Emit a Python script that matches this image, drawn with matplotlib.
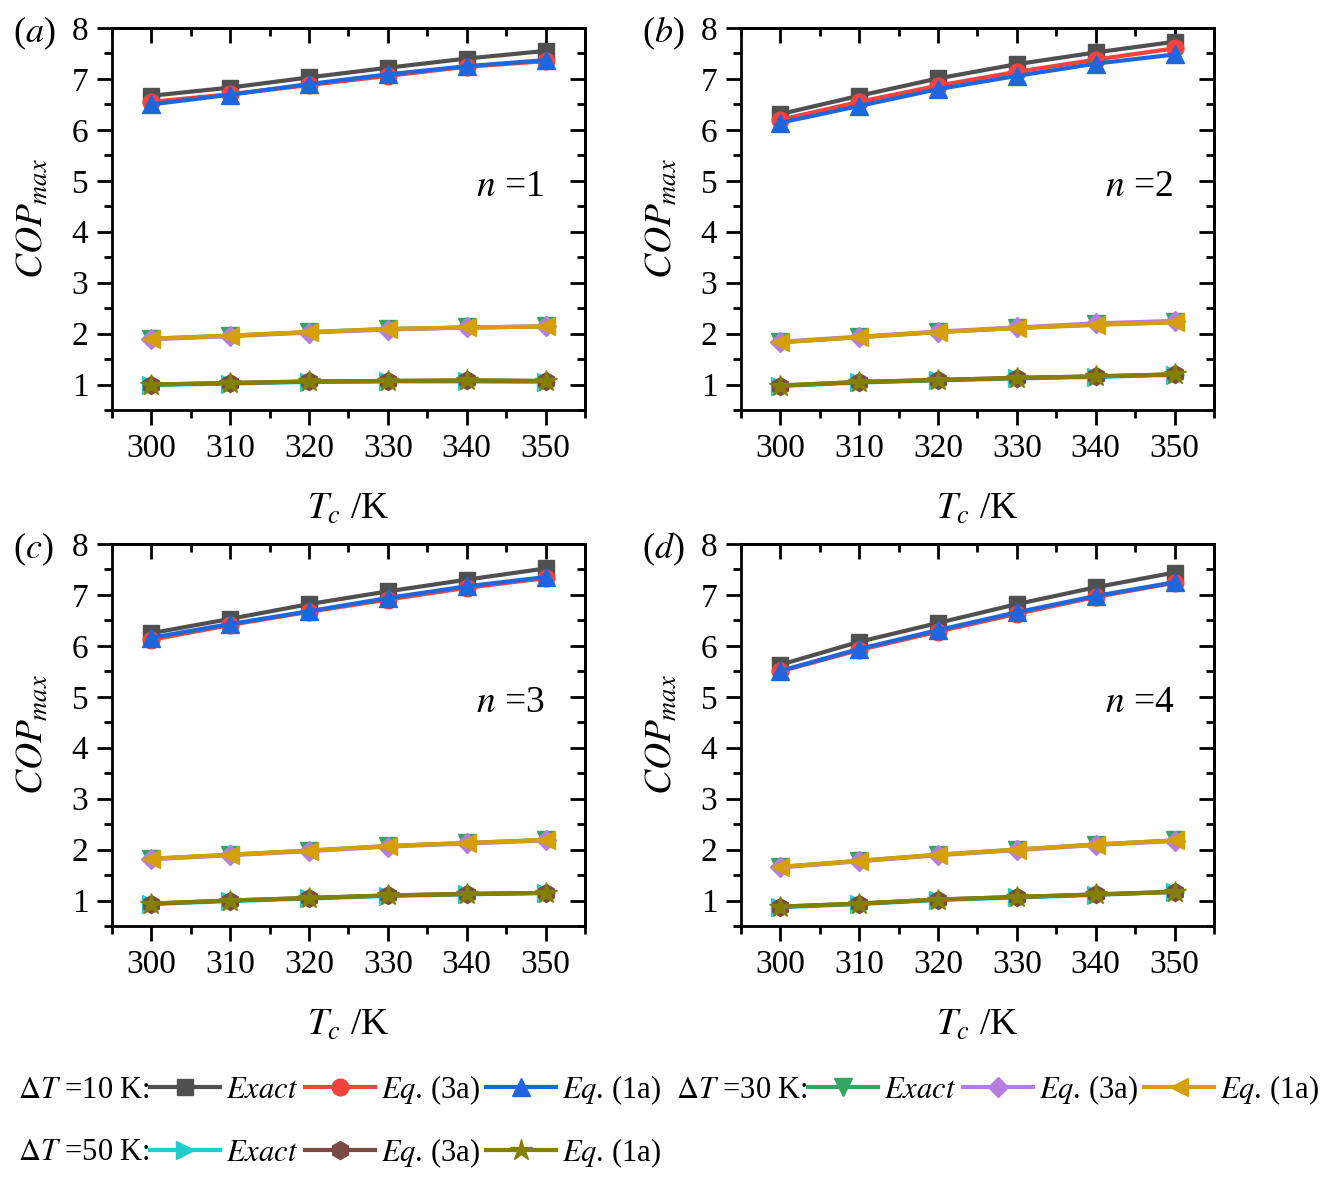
import numpy as np
import matplotlib
matplotlib.use('Agg')
import matplotlib.pyplot as plt
from matplotlib.ticker import MultipleLocator

plt.rcParams['font.family'] = ['Liberation Serif', 'DejaVu Serif']
plt.rcParams['mathtext.fontset'] = 'stix'

Tc = [300, 310, 320, 330, 340, 350]

# COP_max for each panel n = 1..4; dT = 10, 30, 50 K; Exact, Eq.(3a), Eq.(1a)
exact10 = [[6.67, 6.83, 7.03, 7.22, 7.40, 7.55],
           [6.31, 6.67, 7.01, 7.29, 7.52, 7.73],
           [6.25, 6.53, 6.82, 7.07, 7.30, 7.52],
           [5.63, 6.08, 6.45, 6.82, 7.15, 7.44]]
eq3a10 = [[6.55, 6.70, 6.88, 7.06, 7.24, 7.35],
          [6.20, 6.55, 6.87, 7.14, 7.38, 7.60],
          [6.12, 6.41, 6.67, 6.91, 7.14, 7.33],
          [5.50, 5.92, 6.28, 6.63, 6.96, 7.24]]
eq1a10 = [[6.50, 6.69, 6.90, 7.09, 7.25, 7.37],
          [6.14, 6.47, 6.80, 7.06, 7.30, 7.48],
          [6.16, 6.43, 6.68, 6.94, 7.17, 7.35],
          [5.51, 5.94, 6.31, 6.66, 6.98, 7.25]]
exact30 = [[1.90, 1.96, 2.03, 2.09, 2.12, 2.14],
           [1.83, 1.93, 2.03, 2.11, 2.18, 2.23],
           [1.82, 1.90, 1.98, 2.07, 2.13, 2.19],
           [1.66, 1.78, 1.90, 2.00, 2.10, 2.18]]
eq3a30 = [[1.89, 1.95, 2.02, 2.08, 2.12, 2.14],
          [1.84, 1.94, 2.04, 2.12, 2.20, 2.25],
          [1.81, 1.89, 1.97, 2.06, 2.12, 2.18],
          [1.65, 1.77, 1.89, 1.99, 2.09, 2.17]]
eq1a30 = [[1.90, 1.96, 2.03, 2.09, 2.12, 2.14],
          [1.83, 1.93, 2.03, 2.11, 2.17, 2.22],
          [1.82, 1.90, 1.98, 2.07, 2.13, 2.19],
          [1.66, 1.78, 1.90, 2.00, 2.10, 2.18]]
exact50 = [[0.99, 1.02, 1.05, 1.06, 1.06, 1.05],
           [0.97, 1.04, 1.08, 1.12, 1.15, 1.19],
           [0.93, 0.99, 1.04, 1.09, 1.12, 1.15],
           [0.87, 0.93, 1.01, 1.06, 1.11, 1.17]]
eq3a50 = [[1.00, 1.03, 1.06, 1.07, 1.08, 1.07],
          [0.98, 1.05, 1.09, 1.13, 1.16, 1.20],
          [0.94, 1.00, 1.05, 1.10, 1.13, 1.15],
          [0.88, 0.94, 1.02, 1.07, 1.12, 1.17]]
eq1a50 = [[1.00, 1.03, 1.06, 1.07, 1.08, 1.07],
          [0.98, 1.05, 1.09, 1.13, 1.16, 1.20],
          [0.94, 1.00, 1.05, 1.10, 1.13, 1.15],
          [0.88, 0.94, 1.02, 1.07, 1.12, 1.17]]

panel_tags = ['a', 'b', 'c', 'd']
n_values = [1, 2, 3, 4]

series = [
    (exact10, '#505050', 's', r'$\mathit{Exact}$'),
    (eq3a10, '#f2433f', 'o', r'$\mathit{Eq}$. (3a)'),
    (eq1a10, '#1f66dd', '^', r'$\mathit{Eq}$. (1a)'),
    (exact30, '#35a463', 'v', r'$\mathit{Exact}$'),
    (eq3a30, '#b57ddd', 'D', r'$\mathit{Eq}$. (3a)'),
    (eq1a30, '#d49f08', '<', r'$\mathit{Eq}$. (1a)'),
    (exact50, '#22cdd0', '>', r'$\mathit{Exact}$'),
    (eq3a50, '#7a4b44', 'h', r'$\mathit{Eq}$. (3a)'),
    (eq1a50, '#838000', '*', r'$\mathit{Eq}$. (1a)'),
]
msizes = {'s': 12, 'o': 12, '^': 13, 'v': 13, 'D': 10, '<': 13, '>': 13, 'h': 13, '*': 16}

fig = plt.figure(figsize=(13.31, 11.81), dpi=100)
W, H = 1331, 1181
boxes = [(112, 28), (741, 28), (112, 544), (741, 544)]
aw, ah = 473, 382

handles = []
for i, (x0, y0) in enumerate(boxes):
    ax = fig.add_axes([x0 / W, 1 - (y0 + ah) / H, aw / W, ah / H])
    for data, col, mk, lab in series:
        ln, = ax.plot(Tc, data[i], color=col, marker=mk, ms=msizes[mk],
                      lw=3, mec=col, label=lab)
        if i == 0:
            handles.append(ln)
    ax.set_xlim(295, 355)
    ax.set_ylim(0.5, 8)
    ax.xaxis.set_major_locator(MultipleLocator(10))
    ax.xaxis.set_minor_locator(MultipleLocator(5))
    ax.yaxis.set_major_locator(MultipleLocator(1))
    ax.yaxis.set_minor_locator(MultipleLocator(0.5))
    ax.tick_params(which='both', direction='out', width=2, labelsize=24)
    ax.tick_params(which='major', length=11, pad=6)
    ax.tick_params(which='minor', length=6)
    for s in ax.spines.values():
        s.set_linewidth(2)
    # inward ticks on top and right
    top = ax.secondary_xaxis('top')
    top.xaxis.set_major_locator(MultipleLocator(10))
    top.xaxis.set_minor_locator(MultipleLocator(5))
    top.tick_params(which='both', direction='in', width=2, labeltop=False)
    top.tick_params(which='major', length=11)
    top.tick_params(which='minor', length=6)
    right = ax.secondary_yaxis('right')
    right.yaxis.set_major_locator(MultipleLocator(1))
    right.yaxis.set_minor_locator(MultipleLocator(0.5))
    right.tick_params(which='both', direction='in', width=2, labelright=False)
    right.tick_params(which='major', length=11)
    right.tick_params(which='minor', length=6)
    for s in list(top.spines.values()) + list(right.spines.values()):
        s.set_linewidth(2)

    ax.set_xlabel(r'$\mathit{T}_{\mathit{c}}$ /K', fontsize=27)
    ax.xaxis.set_label_coords(0.5, -0.215)
    ax.set_ylabel(r'$\mathit{COP}_{\mathit{max}}$', fontsize=27)
    ax.yaxis.set_label_coords(-0.13, 0.5)
    ax.text(-0.21, 0.985, '($\\mathit{%s}$)' % panel_tags[i], transform=ax.transAxes,
            fontsize=26, ha='left', va='center')
    ax.text(0.77, 0.585, r'$\mathit{n}$ =%d' % n_values[i], transform=ax.transAxes,
            fontsize=27, ha='left', va='center')

# legend rows
group_titles = [r'$\Delta\mathit{T}$ =10 K:', r'$\Delta\mathit{T}$ =30 K:', r'$\Delta\mathit{T}$ =50 K:']
title_pos = [(18, 1090), (676, 1090), (18, 1153)]
leg_x = [150, 808, 150]
for g in range(3):
    tx, ty = title_pos[g]
    fig.text(tx / W, 1 - ty / H, group_titles[g], fontsize=22, ha='left', va='center')
    fig.legend(handles=handles[3 * g:3 * g + 3], loc='center left',
               bbox_to_anchor=(leg_x[g] / W, 1 - ty / H), ncol=3, frameon=False,
               fontsize=22, handlelength=2.3, handletextpad=0.2, columnspacing=0.2,
               borderpad=0, borderaxespad=0)

fig.savefig('out.png', dpi=100)
